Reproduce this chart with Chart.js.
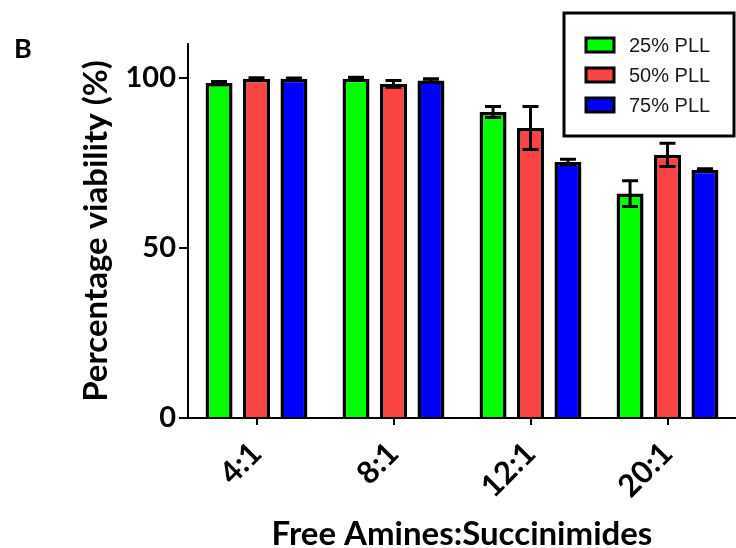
<!DOCTYPE html>
<html>
<head>
<meta charset="utf-8">
<script src="https://cdn.jsdelivr.net/npm/chart.js@4"></script>
<style>
  body { margin: 0; background: #fff; }
  canvas { display: block; }
</style>
</head>
<body>
<canvas id="chart" width="736" height="548"></canvas>
<script>
// data
const ratios = ["4:1", "8:1", "12:1", "20:1"];
const seriesNames = ["25% PLL", "50% PLL", "75% PLL"];
const seriesColors = ["#00ff00", "#fa4444", "#0000ff"];
const pll25 = [98.5, 99.8, 90.0, 66.0];
const pll50 = [99.8, 98.3, 85.3, 77.4];
const pll75 = [99.8, 99.3, 75.3, 73.0];
const err25 = [0.5, 0.4, 1.6, 3.8];
const err50 = [0.3, 1.0, 6.3, 3.4];
const err75 = [0.2, 0.5, 0.8, 0.3];
const yTicks = [0, 50, 100];

const values = [pll25, pll50, pll75];
const errors = [err25, err50, err75];

const boldFont = "Lato, 'Open Sans', sans-serif";

// error bars (mean ± SD)
const errorBars = {
  id: "errorBars",
  afterDatasetsDraw(chart) {
    const ctx = chart.ctx;
    const y = chart.scales.y;
    ctx.save();
    ctx.strokeStyle = "#000";
    ctx.lineWidth = 3;
    chart.data.datasets.forEach((ds, di) => {
      const meta = chart.getDatasetMeta(di);
      meta.data.forEach((bar, i) => {
        const e = errors[di][i];
        const v = ds.data[i];
        const yTop = y.getPixelForValue(v + e);
        const yBot = y.getPixelForValue(v - e);
        const cap = 8;
        ctx.beginPath();
        ctx.moveTo(bar.x, yTop);
        ctx.lineTo(bar.x, yBot);
        ctx.moveTo(bar.x - cap, yTop);
        ctx.lineTo(bar.x + cap, yTop);
        ctx.moveTo(bar.x - cap, yBot);
        ctx.lineTo(bar.x + cap, yBot);
        ctx.stroke();
      });
    });
    ctx.restore();
  },
};

// boxed legend in the top right + panel letter
const boxLegend = {
  id: "boxLegend",
  afterDraw(chart) {
    const ctx = chart.ctx;
    ctx.save();
    ctx.fillStyle = "#fff";
    ctx.fillRect(564, 13, 170, 123);
    ctx.strokeStyle = "#000";
    ctx.lineWidth = 3;
    ctx.strokeRect(564, 13, 170, 123);
    ctx.font = "20px 'Liberation Sans', Arial, sans-serif";
    ctx.textBaseline = "middle";
    chart.data.datasets.forEach((ds, i) => {
      const cy = 45 + i * 30;
      ctx.fillStyle = ds.backgroundColor;
      ctx.fillRect(586, cy - 7, 28, 14);
      ctx.lineWidth = 3;
      ctx.strokeRect(586, cy - 7, 28, 14);
      ctx.fillStyle = "#1a1a1a";
      ctx.fillText(ds.label, 629, cy + 1);
    });
    ctx.fillStyle = "#000";
    ctx.font = "bold 27px " + boldFont;
    ctx.textBaseline = "alphabetic";
    ctx.fillText("B", 14, 58);
    ctx.restore();
  },
};

new Chart(document.getElementById("chart"), {
  type: "bar",
  data: {
    labels: ratios,
    datasets: seriesNames.map((name, i) => ({
      label: name,
      data: values[i],
      backgroundColor: seriesColors[i],
      borderColor: "#000",
      borderWidth: 3.5,
      barPercentage: 0.72,
      categoryPercentage: 0.82,
    })),
  },
  options: {
    responsive: false,
    animation: false,
    layout: { padding: { top: 44, right: 0, left: 0, bottom: 0 } },
    plugins: {
      legend: { display: false },
      tooltip: { enabled: false },
    },
    scales: {
      x: {
        afterFit(scale) { scale.height = 130; },
        grid: { offset: false, drawOnChartArea: false, drawTicks: true, tickLength: 7, color: "#000", lineWidth: 2 },
        border: { display: true, color: "#000", width: 2 },
        ticks: {
          color: "#000",
          font: { family: boldFont, weight: "bold", size: 31 },
          minRotation: 45,
          maxRotation: 45,
          padding: 10,
        },
        title: {
          display: true,
          text: "Free Amines:Succinimides",
          color: "#000",
          font: { family: boldFont, weight: "bold", size: 33 },
          padding: { top: 0, bottom: -6 },
        },
      },
      y: {
        min: 0,
        max: 110,
        afterFit(scale) { scale.width = 188; },
        afterBuildTicks(scale) { scale.ticks = yTicks.map((v) => ({ value: v })); },
        grid: { drawOnChartArea: false, drawTicks: true, tickLength: 9, color: "#000", lineWidth: 2 },
        border: { display: true, color: "#000", width: 2 },
        ticks: {
          color: "#000",
          font: { family: boldFont, weight: "bold", size: 29 },
          padding: 3,
        },
        title: {
          display: true,
          text: "Percentage viability (%)",
          color: "#000",
          font: { family: boldFont, weight: "bold", size: 33 },
          padding: { top: 77, bottom: 0 },
        },
      },
    },
  },
  plugins: [errorBars, boxLegend],
});
</script>
</body>
</html>
